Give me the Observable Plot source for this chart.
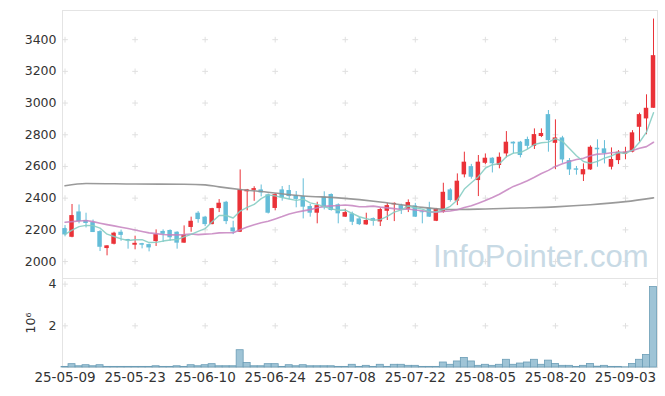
<!DOCTYPE html>
<html><head><meta charset="utf-8">
<script src="https://cdn.jsdelivr.net/npm/d3@7"></script>
<script src="https://cdn.jsdelivr.net/npm/@observablehq/plot@0.6"></script>
<style>
body{margin:0;background:#fff;}
#chart{width:665px;height:396px;}
#chart svg{display:block;}
</style></head><body><div id="chart"></div>
<script>
const dates = ["25-05-09","25-05-12","25-05-13","25-05-14","25-05-15","25-05-16","25-05-19","25-05-20","25-05-21","25-05-22",
"25-05-23","25-05-26","25-05-27","25-05-28","25-05-29","25-05-30","25-06-02","25-06-04","25-06-05","25-06-09",
"25-06-10","25-06-11","25-06-12","25-06-13","25-06-16","25-06-17","25-06-18","25-06-19","25-06-20","25-06-23",
"25-06-24","25-06-25","25-06-26","25-06-27","25-06-30","25-07-01","25-07-02","25-07-03","25-07-04","25-07-07",
"25-07-08","25-07-09","25-07-10","25-07-11","25-07-14","25-07-15","25-07-16","25-07-17","25-07-18","25-07-21",
"25-07-22","25-07-23","25-07-24","25-07-25","25-07-28","25-07-29","25-07-30","25-07-31","25-08-01","25-08-04",
"25-08-05","25-08-06","25-08-07","25-08-08","25-08-11","25-08-12","25-08-13","25-08-14","25-08-18","25-08-19",
"25-08-20","25-08-21","25-08-22","25-08-25","25-08-26","25-08-27","25-08-28","25-08-29","25-09-01","25-09-02",
"25-09-03","25-09-04","25-09-05","25-09-08","25-09-09"];

const open = [2208,2153,2313,2259,2246,2189,2082,2109,2185,2139,
2103,2113,2107,2126,2190,2196,2185,2116,2215,2305,
2280,2233,2334,2374,2212,2185,2440,2449,2452,2421,
2335,2452,2448,2416,2410,2347,2305,2406,2423,2358,
2280,2301,2269,2231,2271,2250,2317,2358,2353,2330,
2351,2314,2336,2254,2311,2452,2381,2547,2599,2511,
2620,2652,2606,2679,2753,2753,2770,2727,2789,2927,
2746,2780,2637,2585,2547,2578,2715,2711,2595,2637,
2677,2690,2847,2900,2967];
const high = [2227,2360,2357,2305,2262,2195,2100,2185,2198,2140,
2160,2115,2110,2200,2200,2200,2188,2225,2280,2315,
2285,2336,2391,2380,2254,2578,2455,2472,2483,2426,
2428,2473,2480,2442,2522,2360,2374,2440,2427,2364,
2330,2312,2278,2305,2275,2335,2367,2370,2362,2389,
2367,2316,2374,2335,2494,2460,2553,2690,2613,2669,
2679,2655,2685,2820,2755,2758,2785,2837,2837,2953,
2894,2790,2650,2600,2616,2730,2768,2763,2717,2700,
2721,2826,2936,3052,3530];
const low = [2156,2150,2238,2212,2183,2063,2036,2105,2128,2078,
2074,2080,2061,2095,2120,2128,2078,2115,2185,2242,
2220,2232,2309,2233,2170,2183,2320,2380,2408,2300,
2320,2381,2389,2339,2269,2280,2238,2326,2318,2238,
2278,2227,2227,2229,2223,2221,2259,2252,2297,2309,
2278,2238,2278,2252,2305,2375,2353,2528,2520,2410,
2612,2559,2585,2654,2679,2654,2707,2707,2782,2690,
2580,2620,2543,2545,2505,2575,2595,2616,2578,2612,
2642,2686,2753,2800,2967];
const close = [2168,2290,2252,2240,2183,2090,2099,2179,2165,2131,
2115,2103,2086,2170,2172,2150,2116,2168,2254,2265,
2233,2334,2368,2252,2187,2452,2452,2460,2433,2305,
2422,2402,2410,2392,2343,2305,2353,2339,2322,2301,
2309,2248,2233,2259,2254,2328,2353,2367,2326,2372,
2280,2308,2280,2332,2437,2385,2507,2627,2532,2627,
2652,2617,2658,2753,2742,2669,2727,2801,2808,2763,
2780,2641,2578,2576,2580,2721,2705,2680,2644,2690,
2690,2812,2927,2967,3299];
// volume in millions of shares
const volumeM = [0.03,0.16,0.06,0.11,0.06,0.11,0.03,0.03,0.03,0.03,
0.03,0.03,0.03,0.06,0.03,0.03,0.06,0.03,0.11,0.06,
0.11,0.16,0.06,0.06,0.06,0.83,0.22,0.06,0.06,0.16,
0.16,0.03,0.11,0.06,0.11,0.06,0.06,0.06,0.06,0.03,
0.03,0.13,0.03,0.08,0.03,0.13,0.03,0.13,0.13,0.08,
0.08,0.03,0.03,0.03,0.24,0.13,0.29,0.46,0.29,0.08,
0.13,0.08,0.13,0.37,0.13,0.19,0.24,0.37,0.13,0.33,
0.17,0.08,0.08,0.03,0.08,0.17,0.04,0.08,0.03,0.03,
0.01,0.17,0.37,0.6,3.86];
const ma5Head = [2172,2198,2220,2228];
const ma20Head = [2248,2252,2256,2259,2252,2242,2233,2225,2216,2208,2199,2190,2181,2176,2171,2168,2168,2170,2174];
const ma120Idx = [0,3,10,17,20,22,25,28,34,39,45,48,51,55,60,65,70,75,80,84];
const ma120Val = [2478,2492,2489,2488,2484,2471,2455,2442,2414,2402,2376,2358,2342,2328,2332,2338,2345,2358,2378,2402];
const priceTicks = [2000,2200,2400,2600,2800,3000,3200,3400];
const volTicks = [2e6,4e6];
const dateTickIdx = [0,10,20,30,40,50,60,70,80];

const RED = "#ea3238", BLUE = "#64bdd8";
const N = dates.length;
const idx = d3.range(N);
const rows = idx.map(i => ({i, o: open[i], h: high[i], l: low[i], c: close[i], v: volumeM[i] * 1e6, up: close[i] >= open[i]}));
function ma(n, head) {
  return idx.map(i => ({i, v: i < head.length ? head[i] : d3.mean(close.slice(i - n + 1, i + 1))}));
}
const ma5 = ma(5, ma5Head), ma20 = ma(20, ma20Head);
const ma120 = ma120Idx.map((i, k) => ({i, v: ma120Val[k]}));
const xDomain = [-0.36, 84.57];
const style = {fontFamily: "DejaVu Sans", fontSize: "12.5px", color: "#333", background: "#fff", overflow: "visible"};
const gridStroke = "#e0e0e0", frameStroke = "#e4e4e4";

const body = (data, color) => Plot.rect(data, {
  x1: d => d.i - 0.32, x2: d => d.i + 0.32,
  y1: d => Math.min(d.o, d.c), y2: d => Math.max(d.o, d.c), fill: color
});

const price = Plot.plot({
  width: 665, height: 278, marginTop: 10, marginBottom: 0, marginLeft: 62, marginRight: 8,
  x: {domain: xDomain, axis: null},
  y: {domain: [1893, 3584], axis: null},
  style,
  marks: [
    Plot.frame({stroke: frameStroke}),
    Plot.dot(d3.cross(dateTickIdx, priceTicks), {x: d => d[0], y: d => d[1], symbol: "plus", r: 2, stroke: gridStroke, strokeWidth: 1}),
    Plot.axisY(priceTicks, {tickSize: 0, tickPadding: 6, fill: "#333", tickFormat: d => String(d)}),
    Plot.text(["InfoPointer.com"], {frameAnchor: "bottom-right", dx: -9, dy: -12, fontSize: 31, fontFamily: "Liberation Sans", fill: "#c8dae5"}),
    Plot.ruleX(rows.filter(d => d.up), {x: "i", y1: "l", y2: "h", stroke: RED, strokeWidth: 1}),
    Plot.ruleX(rows.filter(d => !d.up), {x: "i", y1: "l", y2: "h", stroke: BLUE, strokeWidth: 1}),
    body(rows.filter(d => d.up), RED),
    body(rows.filter(d => !d.up), BLUE),
    Plot.line(ma120, {x: "i", y: "v", stroke: "#8f8f8f", strokeWidth: 1.6, strokeOpacity: 0.9, curve: "monotone-x"}),
    Plot.line(ma20, {x: "i", y: "v", stroke: "#c583bf", strokeWidth: 1.6, strokeOpacity: 0.85}),
    Plot.line(ma5, {x: "i", y: "v", stroke: "#86cdc3", strokeWidth: 1.4, strokeOpacity: 0.9})
  ]
});

const vol = Plot.plot({
  width: 665, height: 118, marginTop: 0, marginBottom: 29, marginLeft: 62, marginRight: 8,
  x: {domain: xDomain, axis: null},
  y: {domain: [0, 4.27e6], axis: null},
  style,
  marks: [
    Plot.frame({stroke: frameStroke}),
    Plot.dot(d3.cross(dateTickIdx, volTicks), {x: d => d[0], y: d => d[1], symbol: "plus", r: 2, stroke: gridStroke, strokeWidth: 1}),
    Plot.rect(rows, {x1: d => d.i - 0.5, x2: d => d.i + 0.5, y1: 0, y2: "v", fill: "#9fc4d6", stroke: "#6b9db6", strokeWidth: 0.8}),
    Plot.axisY(volTicks, {tickSize: 0, tickPadding: 6, tickFormat: d => d / 1e6, label: "10⁶", labelAnchor: "center", labelArrow: "none", labelOffset: 36}),
    Plot.axisX(dateTickIdx, {tickSize: 0, tickPadding: 5, fontSize: 13.5, tickFormat: i => dates[i], label: null})
  ]
});

document.getElementById("chart").append(price, vol);
</script>
</body></html>
